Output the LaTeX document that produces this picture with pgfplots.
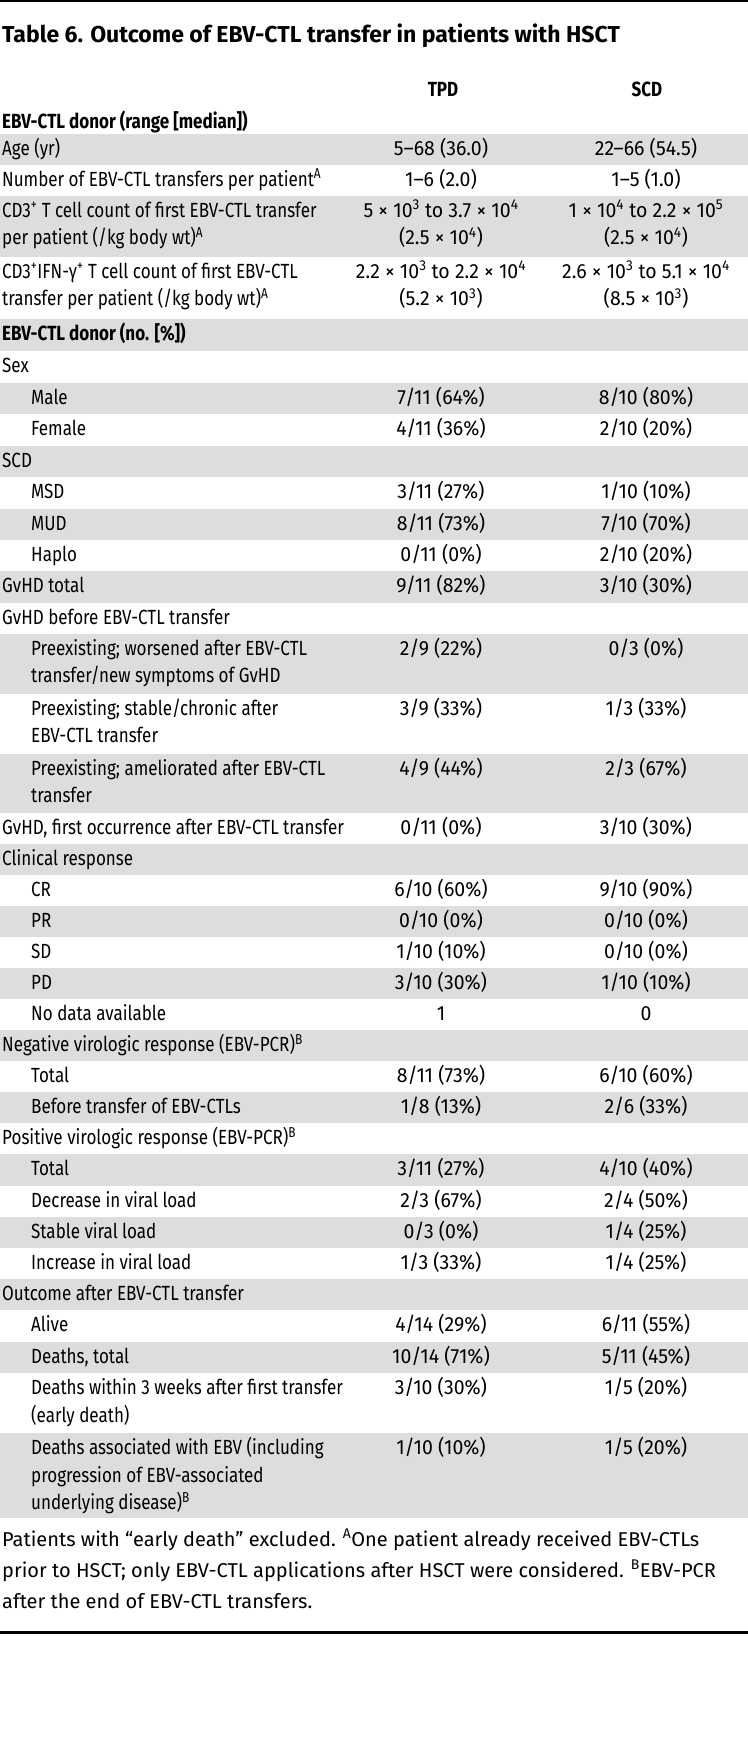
\documentclass[border=0pt]{standalone}
\usepackage{fontspec}
\setmainfont{Fira Sans}[FakeStretch=0.83]
\newfontfamily\valfont{Fira Sans}[FakeStretch=0.95]
\newfontfamily\footfont{Fira Sans}
\usepackage{pgfplots}
\pgfplotsset{compat=1.18}
\definecolor{rowgray}{RGB}{220,221,223}
\newcommand\bodyfont{\fontsize{20.5bp}{27bp}\selectfont}
\tikzset{lab/.style={anchor=base west,inner sep=0pt,font=\bodyfont},
         val/.style={anchor=base,inner sep=0pt,font=\valfont\bodyfont}}
\newcommand\Lab[3]{\node[lab] at (axis cs:#1,#2) {#3};}
\newcommand\Val[3]{\node[val] at (axis cs:441,#1) {#2};\node[val] at (axis cs:646,#1) {#3};}
\newcommand\Band[2]{\addplot[fill=rowgray,draw=none] coordinates {(0,#1) (748,#1) (748,#2) (0,#2)} -- cycle;}
\begin{document}
\begin{tikzpicture}[x=1bp,y=1bp]
\useasboundingbox (0,0) rectangle (748,1757);
\begin{axis}[at={(0,0)},anchor=south west,scale only axis,width=748bp,height=1757bp,
  xmin=0,xmax=748,ymin=0,ymax=1757,y dir=reverse,hide axis,clip=false]
% grey bands
\Band{134}{165}
\Band{196}{257}
\Band{319}{351}
\Band{383}{414}
\Band{446}{477}
\Band{509}{540}
\Band{571}{603}
\Band{634}{694}
\Band{754}{813}
\Band{844}{875}
\Band{906}{937}
\Band{968}{999}
\Band{1030}{1061}
\Band{1092}{1123}
\Band{1154}{1186}
\Band{1217}{1248}
\Band{1279}{1310}
\Band{1342}{1373}
\Band{1433}{1518}
% rules
\addplot[black,line width=2.5bp] coordinates {(0,1.2) (748,1.2)};
\addplot[black,line width=3bp] coordinates {(0,1632) (748,1632)};
% title and headers
\node[anchor=base west,inner sep=0pt,font=\footfont\fontsize{23bp}{27bp}\selectfont\bfseries] at (axis cs:2,43) {Table 6. Outcome of EBV-CTL transfer in patients with HSCT};
\node[anchor=base,inner sep=0pt,font=\bodyfont\bfseries] at (axis cs:443,97) {TPD};
\node[anchor=base,inner sep=0pt,font=\bodyfont\bfseries] at (axis cs:647,97) {SCD};
\node[anchor=base west,inner sep=0pt,font=\bodyfont\bfseries] at (axis cs:2,129) {EBV-CTL donor (range [median])};
% rows
\Lab{2}{155.5}{Age (yr)}\Val{155.5}{5–68 (36.0)}{22–66 (54.5)}
\Lab{2}{186.5}{Number of EBV-CTL transfers per patient\textsuperscript{A}}\Val{186.5}{1–6 (2.0)}{1–5 (1.0)}
\Lab{2}{217.5}{CD3\textsuperscript{+} T cell count of first EBV-CTL transfer}
\Lab{2}{245}{per patient (/kg body wt)\textsuperscript{A}}
\Val{217.5}{5 × 10\textsuperscript{3} to 3.7 × 10\textsuperscript{4}}{1 × 10\textsuperscript{4} to 2.2 × 10\textsuperscript{5}}
\Val{245}{(2.5 × 10\textsuperscript{4})}{(2.5 × 10\textsuperscript{4})}
\Lab{2}{278.5}{CD3\textsuperscript{+}IFN-γ\textsuperscript{+} T cell count of first EBV-CTL}
\Lab{2}{306}{transfer per patient (/kg body wt)\textsuperscript{A}}
\Val{278.5}{2.2 × 10\textsuperscript{3} to 2.2 × 10\textsuperscript{4}}{2.6 × 10\textsuperscript{3} to 5.1 × 10\textsuperscript{4}}
\Val{306}{(5.2 × 10\textsuperscript{3})}{(8.5 × 10\textsuperscript{3})}
\node[anchor=base west,inner sep=0pt,font=\bodyfont\bfseries] at (axis cs:2,340.5) {EBV-CTL donor (no. [\%])};
\Lab{2}{372.5}{Sex}
\Lab{31}{404.5}{Male}\Val{404.5}{7/11 (64\%)}{8/10 (80\%)}
\Lab{31}{435.5}{Female}\Val{435.5}{4/11 (36\%)}{2/10 (20\%)}
\Lab{2}{467.5}{SCD}
\Lab{31}{498.5}{MSD}\Val{498.5}{3/11 (27\%)}{1/10 (10\%)}
\Lab{31}{530.5}{MUD}\Val{530.5}{8/11 (73\%)}{7/10 (70\%)}
\Lab{31}{561.5}{Haplo}\Val{561.5}{0/11 (0\%)}{2/10 (20\%)}
\Lab{2}{592.5}{GvHD total}\Val{592.5}{9/11 (82\%)}{3/10 (30\%)}
\Lab{2}{624.5}{GvHD before EBV-CTL transfer}
\Lab{31}{655.5}{Preexisting; worsened after EBV-CTL}
\Lab{31}{683}{transfer/new symptoms of GvHD}
\Val{655.5}{2/9 (22\%)}{0/3 (0\%)}
\Lab{31}{715.5}{Preexisting; stable/chronic after}
\Lab{31}{743}{EBV-CTL transfer}
\Val{715.5}{3/9 (33\%)}{1/3 (33\%)}
\Lab{31}{775.5}{Preexisting; ameliorated after EBV-CTL}
\Lab{31}{803}{transfer}
\Val{775.5}{4/9 (44\%)}{2/3 (67\%)}
\Lab{2}{834.5}{GvHD, first occurrence after EBV-CTL transfer}\Val{834.5}{0/11 (0\%)}{3/10 (30\%)}
\Lab{2}{865.5}{Clinical response}
\Lab{31}{896.5}{CR}\Val{896.5}{6/10 (60\%)}{9/10 (90\%)}
\Lab{31}{927.5}{PR}\Val{927.5}{0/10 (0\%)}{0/10 (0\%)}
\Lab{31}{958.5}{SD}\Val{958.5}{1/10 (10\%)}{0/10 (0\%)}
\Lab{31}{989.5}{PD}\Val{989.5}{3/10 (30\%)}{1/10 (10\%)}
\Lab{31}{1020.5}{No data available}\Val{1020.5}{1}{0}
\Lab{2}{1051.5}{Negative virologic response (EBV-PCR)\textsuperscript{B}}
\Lab{31}{1082.5}{Total}\Val{1082.5}{8/11 (73\%)}{6/10 (60\%)}
\Lab{31}{1113.5}{Before transfer of EBV-CTLs}\Val{1113.5}{1/8 (13\%)}{2/6 (33\%)}
\Lab{2}{1144.5}{Positive virologic response (EBV-PCR)\textsuperscript{B}}
\Lab{31}{1175.5}{Total}\Val{1175.5}{3/11 (27\%)}{4/10 (40\%)}
\Lab{31}{1207.5}{Decrease in viral load}\Val{1207.5}{2/3 (67\%)}{2/4 (50\%)}
\Lab{31}{1238.5}{Stable viral load}\Val{1238.5}{0/3 (0\%)}{1/4 (25\%)}
\Lab{31}{1269.5}{Increase in viral load}\Val{1269.5}{1/3 (33\%)}{1/4 (25\%)}
\Lab{2}{1300.5}{Outcome after EBV-CTL transfer}
\Lab{31}{1331.5}{Alive}\Val{1331.5}{4/14 (29\%)}{6/11 (55\%)}
\Lab{31}{1363.5}{Deaths, total}\Val{1363.5}{10/14 (71\%)}{5/11 (45\%)}
\Lab{31}{1394.5}{Deaths within 3 weeks after first transfer}
\Lab{31}{1422}{(early death)}
\Val{1394.5}{3/10 (30\%)}{1/5 (20\%)}
\Lab{31}{1454.5}{Deaths associated with EBV (including}
\Lab{31}{1482}{progression of EBV-associated}
\Lab{31}{1509.5}{underlying disease)\textsuperscript{B}}
\Val{1454.5}{1/10 (10\%)}{1/5 (20\%)}
% footnote
\node[anchor=base west,inner sep=0pt,font=\footfont\fontsize{20bp}{27bp}\selectfont] at (axis cs:2,1546) {Patients with “early death” excluded. \textsuperscript{A}One patient already received EBV-CTLs};
\node[anchor=base west,inner sep=0pt,font=\footfont\fontsize{20bp}{27bp}\selectfont] at (axis cs:2,1577) {prior to HSCT; only EBV-CTL applications after HSCT were considered. \textsuperscript{B}EBV-PCR};
\node[anchor=base west,inner sep=0pt,font=\footfont\fontsize{20bp}{27bp}\selectfont] at (axis cs:2,1608) {after the end of EBV-CTL transfers.};
\end{axis}
\end{tikzpicture}
\end{document}
